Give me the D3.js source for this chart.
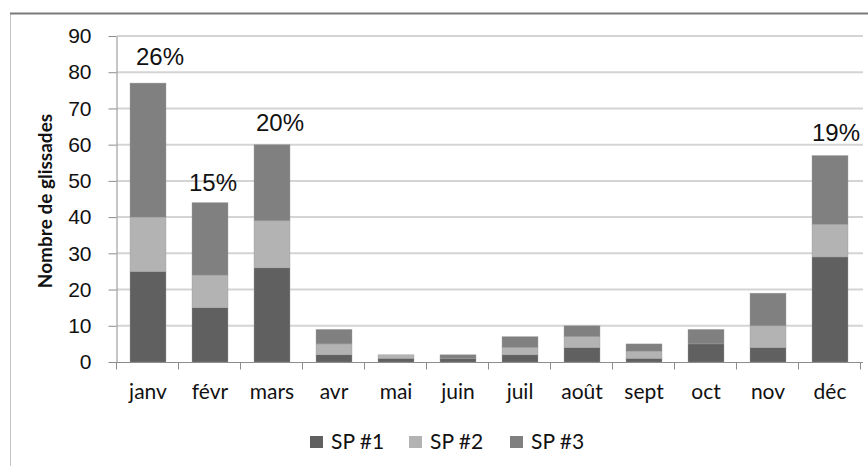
<!DOCTYPE html>
<html>
<head>
<meta charset="utf-8">
<script src="https://cdn.jsdelivr.net/npm/d3@7"></script>
<style>
  html, body { margin: 0; padding: 0; background: #fff; }
  svg { display: block; }
</style>
</head>
<body>
<svg id="chart" width="868" height="466"></svg>
<script>
// Monthly counts of slides per site
const months = ["janv", "févr", "mars", "avr", "mai", "juin", "juil", "août", "sept", "oct", "nov", "déc"];
const sp1 = [25, 15, 26, 2, 1, 1, 2, 4, 1, 5, 4, 29];
const sp2 = [15, 9, 13, 3, 1, 0, 2, 3, 2, 0, 6, 9];
const sp3 = [37, 20, 21, 4, 0, 1, 3, 3, 2, 4, 9, 19];
const seriesNames = ["SP #1", "SP #2", "SP #3"];
const yTicks = [0, 10, 20, 30, 40, 50, 60, 70, 80, 90];
// months whose share of the yearly total is annotated
const annotated = ["janv", "févr", "mars", "déc"];

const colors = ["#606060", "#b3b3b3", "#808080"];

const svg = d3.select("#chart");
const W = 868, H = 466;
const plot = { left: 117, right: 861, top: 36, bottom: 362 };

// outer chart frame
svg.append("line").attr("x1", 10.5).attr("x2", 10.5).attr("y1", 13).attr("y2", H)
  .attr("stroke", "#c4c4c4").attr("stroke-width", 1);
svg.append("line").attr("x1", 10).attr("x2", W).attr("y1", 13.5).attr("y2", 13.5)
  .attr("stroke", "#7a7a7a").attr("stroke-width", 2);

const table = months.map((m, i) => ({ month: m, s0: sp1[i], s1: sp2[i], s2: sp3[i] }));
const stack = d3.stack().keys(["s0", "s1", "s2"])(table);

const x = d3.scaleBand().domain(months).range([plot.left, plot.right]).paddingInner(0.42).paddingOuter(0.21);
const y = d3.scaleLinear().domain([0, 90]).range([plot.bottom, plot.top]);

// horizontal gridlines
svg.append("g").selectAll("line").data(yTicks.slice(1)).join("line")
  .attr("x1", plot.left).attr("x2", plot.right + 2)
  .attr("y1", d => y(d)).attr("y2", d => y(d))
  .attr("stroke", "#d4d4d4").attr("stroke-width", 2);

// y axis
const yAxis = svg.append("g").attr("transform", `translate(${plot.left - 0.5},0)`)
  .call(d3.axisLeft(y).tickValues(yTicks).tickSize(8).tickPadding(17).tickSizeOuter(0));
yAxis.select(".domain").attr("stroke", "#8c8c8c");
yAxis.selectAll(".tick line").attr("stroke", "#8c8c8c");
yAxis.selectAll(".tick text")
  .attr("font-family", "'Liberation Sans', Arial, sans-serif")
  .attr("font-size", 21).attr("fill", "#111");

// stacked bars
svg.append("g").selectAll("g").data(stack).join("g")
  .attr("fill", (d, i) => colors[i])
  .selectAll("rect").data(d => d).join("rect")
  .attr("x", d => x(d.data.month))
  .attr("width", x.bandwidth())
  .attr("y", d => y(d[1]))
  .attr("height", d => y(d[0]) - y(d[1]))
  .attr("stroke", "#9a9a9a").attr("stroke-width", 0.6).attr("stroke-opacity", 0.6);

// x axis with ticks between categories
const xa = svg.append("g").attr("transform", `translate(0,${plot.bottom + 0.5})`);
xa.append("line").attr("x1", plot.left - 8).attr("x2", plot.right + 2)
  .attr("stroke", "#8c8c8c");
const step = x.step();
xa.selectAll(".sep").data(d3.range(months.length + 1)).join("line")
  .attr("class", "sep")
  .attr("x1", i => plot.left - 0.5 + i * step).attr("x2", i => plot.left - 0.5 + i * step)
  .attr("y1", 0).attr("y2", 7).attr("stroke", "#8c8c8c");
xa.selectAll("text").data(months).join("text")
  .attr("x", d => x(d) + x.bandwidth() / 2)
  .attr("y", 36)
  .attr("text-anchor", "middle")
  .attr("font-family", "Lato, 'Open Sans', sans-serif")
  .attr("font-size", 21).attr("fill", "#111")
  .text(d => d);

// y axis title
svg.append("text")
  .attr("transform", `translate(52,${(plot.top + plot.bottom) / 2 + 2}) rotate(-90)`)
  .attr("text-anchor", "middle")
  .attr("font-family", "Lato, 'Open Sans', sans-serif")
  .attr("font-weight", "bold").attr("font-size", 19).attr("fill", "#111")
  .text("Nombre de glissades");

// share labels above the biggest months
const totals = table.map(d => d.s0 + d.s1 + d.s2);
const grand = d3.sum(totals);
const labelShift = { "janv": [12, -18], "févr": [3, -12], "mars": [8, -14], "déc": [6, -15] };
svg.append("g").selectAll("text").data(annotated).join("text")
  .attr("x", m => x(m) + x.bandwidth() / 2 + labelShift[m][0])
  .attr("y", m => y(totals[months.indexOf(m)]) + labelShift[m][1])
  .attr("text-anchor", "middle")
  .attr("font-family", "'Liberation Sans', Arial, sans-serif")
  .attr("font-size", 24).attr("fill", "#111")
  .text(m => Math.round(100 * totals[months.indexOf(m)] / grand) + "%");

// legend
const legendX = [310, 409, 510];
const lg = svg.append("g").selectAll("g").data(seriesNames).join("g")
  .attr("transform", (d, i) => `translate(${legendX[i]},436)`);
lg.append("rect").attr("width", 13).attr("height", 12).attr("fill", (d, i) => colors[i]);
lg.append("text").attr("x", 21).attr("y", 13)
  .attr("font-family", "Lato, 'Open Sans', sans-serif")
  .attr("font-size", 21).attr("fill", "#111")
  .text(d => d);
</script>
</body>
</html>
